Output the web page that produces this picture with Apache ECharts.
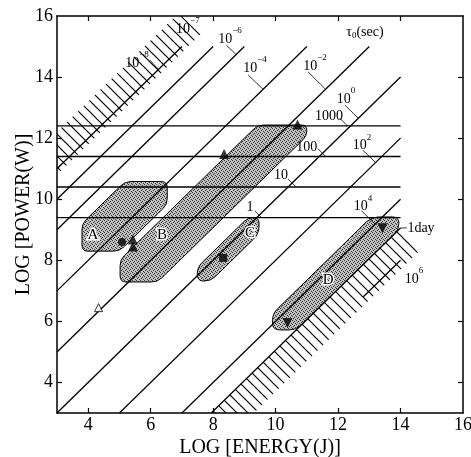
<!DOCTYPE html>
<html><head><meta charset="utf-8">
<script src="https://cdn.jsdelivr.net/npm/echarts@6/dist/echarts.min.js"></script>
<style>html,body{margin:0;padding:0;background:#fff}#c{width:471px;height:457px}</style>
</head><body><div id="c"></div>
<script>
// ---------------- data ----------------
const xTickValues = [4, 6, 8, 10, 12, 14];
const xLabelValues = [4, 6, 8, 10, 12, 14, 16];
const yTickValues = [4, 6, 8, 10, 12, 14];
const yLabelValues = [4, 6, 8, 10, 12, 14, 16];

// constant-tau lines: log P = log E - log tau
const tauExponents = [-8, -7, -6, -4, -2, 0, 2, 4, 4.94, 6];
const tauLineStartX = [3, 3, 3, 3, 3, 3, 5, 7, 7.94, 12.8];
const tauLineEndX   = [7, 8, 9, 11, 13, 14, 14, 14, 14, 14];

// horizontal reference lines
const powerLevels = [12.4, 11.4, 10.4, 9.4];
const powerLabels = ['1000', '100', '10', '1'];
const powerLineX = [3, 14];

// shaded regions (outline vertices, data units)
const regionNames = ['A', 'B', 'C', 'D'];
const regionA = [[3.8, 8.3], [5.0, 8.3], [6.53, 9.83], [6.53, 10.58], [5.18, 10.58], [3.8, 9.2]];
const regionB = [[5.02, 7.29], [6.22, 7.29], [11.0, 12.07], [11.0, 12.43], [9.43, 12.43], [5.02, 8.02]];
const regionC = [[7.49, 7.32], [7.92, 7.32], [9.47, 8.87], [9.47, 9.4], [9.12, 9.4], [7.49, 7.77]];
const regionD = [[9.9, 5.72], [10.66, 5.72], [13.95, 9.01], [13.95, 9.42], [13.07, 9.42], [9.9, 6.25]];
const regionLetterPos = [[4.15, 8.83], [6.36, 8.83], [9.18, 8.89], [11.68, 7.35]];

// hatched (forbidden) bands
const hatchUpper = [[1.0, 8.8], [7.6, 15.4], [6.9, 16.1], [1.0, 10.2]];
const hatchLower = [[6.94, 2.0], [14.0, 9.06], [14.65, 8.35], [8.3, 2.0]];

// measured points
const ptsCircle = [[5.08, 8.6]];
const ptsTriUp = [[5.43, 8.68], [5.43, 8.45], [8.35, 11.48], [10.7, 12.45]];
const ptsTriOpen = [[4.33, 6.45]];
const ptsSquare = [[8.32, 8.08]];
const ptsTriDown = [[10.38, 5.95], [13.42, 9.05]];

// annotations
const tauLabelExp = ['−8', '−7', '−6', '−4', '−2', '0', '2', '4', '6'];
const tauLabelPos = [[5.56, 14.56], [7.19, 15.67], [8.54, 15.35], [9.34, 14.39], [11.26, 14.45], [12.25, 13.38], [12.77, 11.85], [12.8, 9.85], [14.43, 7.49]];
const powerLabelPos = [[11.71, 12.7], [11.0, 11.71], [10.17, 10.79], [9.18, 9.75]];
const leaderLines = [
  [[5.98, 14.55], [6.25, 14.25]],
  [[8.42, 15.05], [8.735, 14.735]],
  [[9.12, 14.07], [9.6, 13.6]],
  [[11.04, 14.17], [11.6, 13.6]],
  [[12.22, 13.08], [12.65, 12.65]],
  [[12.05, 12.66], [12.3, 12.4]],
  [[11.35, 11.66], [11.6, 11.4]],
  [[12.8, 11.6], [13.2, 11.2]],
  [[10.4, 10.66], [10.66, 10.4]],
  [[9.33, 9.62], [9.55, 9.4]],
  [[12.75, 9.62], [13.185, 9.185]],
  [[14.0, 9.06], [14.2, 9.06]]
];
const tauTitlePos = [12.86, 15.47];
const dayLabelPos = [14.22, 9.04];

// ---------------- helpers ----------------
const SERIF = '"Liberation Serif", "DejaVu Serif", serif';
function mkStipple() {
  const c = document.createElement('canvas'); c.width = 4; c.height = 4;
  const g = c.getContext('2d');
  g.fillStyle = '#c0c0c0'; g.fillRect(0, 0, 4, 4);
  g.fillStyle = '#333';
  [[0, 0], [2, 1], [1, 2], [3, 3]].forEach(p => g.fillRect(p[0], p[1], 1, 1));
  return c;
}
function mkHatch(s) {
  const c = document.createElement('canvas'); c.width = s; c.height = s;
  const g = c.getContext('2d');
  g.strokeStyle = '#000'; g.lineWidth = 1.2;
  g.beginPath();
  g.moveTo(-1, -1); g.lineTo(s + 1, s + 1);
  g.moveTo(s - 1, -1); g.lineTo(s + 1, 1);
  g.moveTo(-1, s - 1); g.lineTo(1, s + 1);
  g.stroke();
  return c;
}
const stipple = mkStipple();
const hatch = mkHatch(11);

function roundedPath(pts, r) {
  const n = pts.length; let d = '';
  for (let i = 0; i < n; i++) {
    const p0 = pts[(i - 1 + n) % n], p1 = pts[i], p2 = pts[(i + 1) % n];
    const v1 = [p0[0] - p1[0], p0[1] - p1[1]], v2 = [p2[0] - p1[0], p2[1] - p1[1]];
    const l1 = Math.hypot(v1[0], v1[1]), l2 = Math.hypot(v2[0], v2[1]);
    const rr = Math.min(r, l1 / 2, l2 / 2);
    const a = [p1[0] + v1[0] / l1 * rr, p1[1] + v1[1] / l1 * rr];
    const b = [p1[0] + v2[0] / l2 * rr, p1[1] + v2[1] / l2 * rr];
    d += (i === 0 ? 'M' : 'L') + a[0] + ' ' + a[1] + ' Q' + p1[0] + ' ' + p1[1] + ' ' + b[0] + ' ' + b[1] + ' ';
  }
  return d + 'Z';
}

const regions = [regionA, regionB, regionC, regionD];
const regionRadius = [6, 6, 8, 7];

const tauRich = {
  b: { fontFamily: SERIF, fontSize: 14, lineHeight: 20, verticalAlign: 'bottom', color: '#000' },
  s: { fontFamily: SERIF, fontSize: 9, lineHeight: 9, verticalAlign: 'top', color: '#000' }
};

const axisCommon = {
  type: 'value', min: 3, max: 16,
  splitLine: { show: false },
  axisLine: { show: true, onZero: false, lineStyle: { color: '#000', width: 1.5 } },
  axisTick: { show: true, inside: true, length: 5, lineStyle: { color: '#000', width: 1.2 } }
};

const chart = echarts.init(document.getElementById('c'), null, { renderer: 'canvas' });
chart.setOption({
  animation: false,
  backgroundColor: '#fff',
  grid: { left: 57, right: 8, top: 16, bottom: 44, containLabel: false, outerBoundsMode: 'none' },
  xAxis: [
    Object.assign({}, axisCommon, {
      position: 'bottom',
      axisTick: Object.assign({}, axisCommon.axisTick, { customValues: xTickValues }),
      axisLabel: { customValues: xLabelValues, color: '#000', fontFamily: SERIF, fontSize: 18, margin: 3 },
      name: 'LOG [ENERGY(J)]', nameLocation: 'middle', nameGap: 25, nameMoveOverlap: false,
      nameTextStyle: { color: '#000', fontFamily: SERIF, fontSize: 20 }
    }),
    Object.assign({}, axisCommon, {
      position: 'top',
      axisTick: Object.assign({}, axisCommon.axisTick, { customValues: xTickValues }),
      axisLabel: { show: false }
    })
  ],
  yAxis: [
    Object.assign({}, axisCommon, {
      position: 'left',
      axisTick: Object.assign({}, axisCommon.axisTick, { customValues: yTickValues }),
      axisLabel: { customValues: yLabelValues, color: '#000', fontFamily: SERIF, fontSize: 18, margin: 4 },
      name: 'LOG [POWER(W)]', nameLocation: 'middle', nameGap: 23, nameMoveOverlap: false,
      nameTextStyle: { color: '#000', fontFamily: SERIF, fontSize: 20 }
    }),
    Object.assign({}, axisCommon, {
      position: 'right',
      axisTick: Object.assign({}, axisCommon.axisTick, { customValues: yTickValues }),
      axisLabel: { show: false }
    })
  ],
  series: [
    // hatched bands
    {
      type: 'custom', clip: true, silent: true, z: 1,
      data: [[5, 13], [11, 6]],
      renderItem(params, api) {
        const poly = (params.dataIndex === 0 ? hatchUpper : hatchLower).map(p => api.coord(p));
        return { type: 'polygon', shape: { points: poly }, style: { fill: { image: hatch, repeat: 'repeat' }, stroke: null } };
      }
    },
    // shaded regions
    {
      type: 'custom', clip: true, silent: true, z: 2,
      data: regionLetterPos,
      renderItem(params, api) {
        const pts = regions[params.dataIndex].map(p => api.coord(p));
        return { type: 'path', shape: { pathData: roundedPath(pts, regionRadius[params.dataIndex]) },
          style: { fill: { image: stipple, repeat: 'repeat' }, stroke: '#000', lineWidth: 1 } };
      }
    },
    // tau lines
    {
      type: 'custom', clip: true, silent: true, z: 3,
      data: tauExponents.map((e, i) => [tauLineStartX[i], tauLineStartX[i] - e]),
      renderItem(params, api) {
        const i = params.dataIndex, e = tauExponents[i];
        const p1 = api.coord([tauLineStartX[i], tauLineStartX[i] - e]);
        const p2 = api.coord([tauLineEndX[i], tauLineEndX[i] - e]);
        return { type: 'line', shape: { x1: p1[0], y1: p1[1], x2: p2[0], y2: p2[1] }, style: { stroke: '#000', lineWidth: 1.3 } };
      }
    },
    // horizontal power lines
    {
      type: 'custom', clip: true, silent: true, z: 3,
      data: powerLevels.map(v => [powerLineX[0], v]),
      renderItem(params, api) {
        const v = powerLevels[params.dataIndex];
        const p1 = api.coord([powerLineX[0], v]), p2 = api.coord([powerLineX[1], v]);
        return { type: 'line', shape: { x1: p1[0], y1: p1[1], x2: p2[0], y2: p2[1] }, style: { stroke: '#000', lineWidth: 1.3 } };
      }
    },
    // leader lines
    {
      type: 'custom', clip: false, silent: true, z: 4,
      data: leaderLines.map(l => l[0]),
      renderItem(params, api) {
        const l = leaderLines[params.dataIndex];
        const p1 = api.coord(l[0]), p2 = api.coord(l[1]);
        return { type: 'line', shape: { x1: p1[0], y1: p1[1], x2: p2[0], y2: p2[1] }, style: { stroke: '#000', lineWidth: 0.8 } };
      }
    },
    // tau labels
    {
      type: 'custom', clip: false, silent: true, z: 5,
      data: tauLabelPos,
      renderItem(params, api) {
        const p = api.coord(tauLabelPos[params.dataIndex]);
        return { type: 'text', x: p[0], y: p[1],
          style: { text: '{b|10}{s|' + tauLabelExp[params.dataIndex] + '}', rich: tauRich, align: 'center', verticalAlign: 'middle' } };
      }
    },
    // power labels
    {
      type: 'custom', clip: false, silent: true, z: 5,
      data: powerLabelPos,
      renderItem(params, api) {
        const p = api.coord(powerLabelPos[params.dataIndex]);
        return { type: 'text', x: p[0], y: p[1],
          style: { text: powerLabels[params.dataIndex], fontFamily: SERIF, fontSize: 14, fill: '#000', align: 'center', verticalAlign: 'middle' } };
      }
    },
    // tau title and 1 day label
    {
      type: 'custom', clip: false, silent: true, z: 5,
      data: [tauTitlePos, dayLabelPos],
      renderItem(params, api) {
        if (params.dataIndex === 0) {
          const p = api.coord(tauTitlePos);
          return { type: 'text', x: p[0], y: p[1], style: {
            text: '{b|τ}{u|0}{b|(sec)}', align: 'center', verticalAlign: 'middle',
            rich: {
              b: { fontFamily: SERIF, fontSize: 14, lineHeight: 16, verticalAlign: 'middle', color: '#000' },
              u: { fontFamily: SERIF, fontSize: 9, lineHeight: 9, verticalAlign: 'bottom', color: '#000' }
            } } };
        }
        const p = api.coord(dayLabelPos);
        return { type: 'text', x: p[0], y: p[1], style: { text: '1day', fontFamily: SERIF, fontSize: 14, fill: '#000', align: 'left', verticalAlign: 'middle' } };
      }
    },
    // region letters
    {
      type: 'custom', clip: false, silent: true, z: 6,
      data: regionLetterPos,
      renderItem(params, api) {
        const p = api.coord(regionLetterPos[params.dataIndex]);
        return { type: 'text', x: p[0], y: p[1], style: { text: regionNames[params.dataIndex], fontFamily: SERIF, fontSize: 15,
          fill: '#000', stroke: '#fff', lineWidth: 3, align: 'center', verticalAlign: 'middle' } };
      }
    },
    // markers
    { type: 'scatter', z: 7, silent: true, data: ptsCircle, symbol: 'circle', symbolSize: 8, itemStyle: { color: '#000' } },
    { type: 'scatter', z: 7, silent: true, data: ptsTriUp, symbol: 'triangle', symbolSize: 10, itemStyle: { color: '#000' } },
    { type: 'scatter', z: 7, silent: true, data: ptsTriOpen, symbol: 'triangle', symbolSize: 8, itemStyle: { color: '#fff', borderColor: '#000', borderWidth: 1 } },
    { type: 'scatter', z: 7, silent: true, data: ptsSquare, symbol: 'rect', symbolSize: 8, itemStyle: { color: '#000' } },
    { type: 'scatter', z: 7, silent: true, data: ptsTriDown, symbol: 'triangle', symbolRotate: 180, symbolSize: 10, itemStyle: { color: '#000' } }
  ]
});
</script>
</body></html>
